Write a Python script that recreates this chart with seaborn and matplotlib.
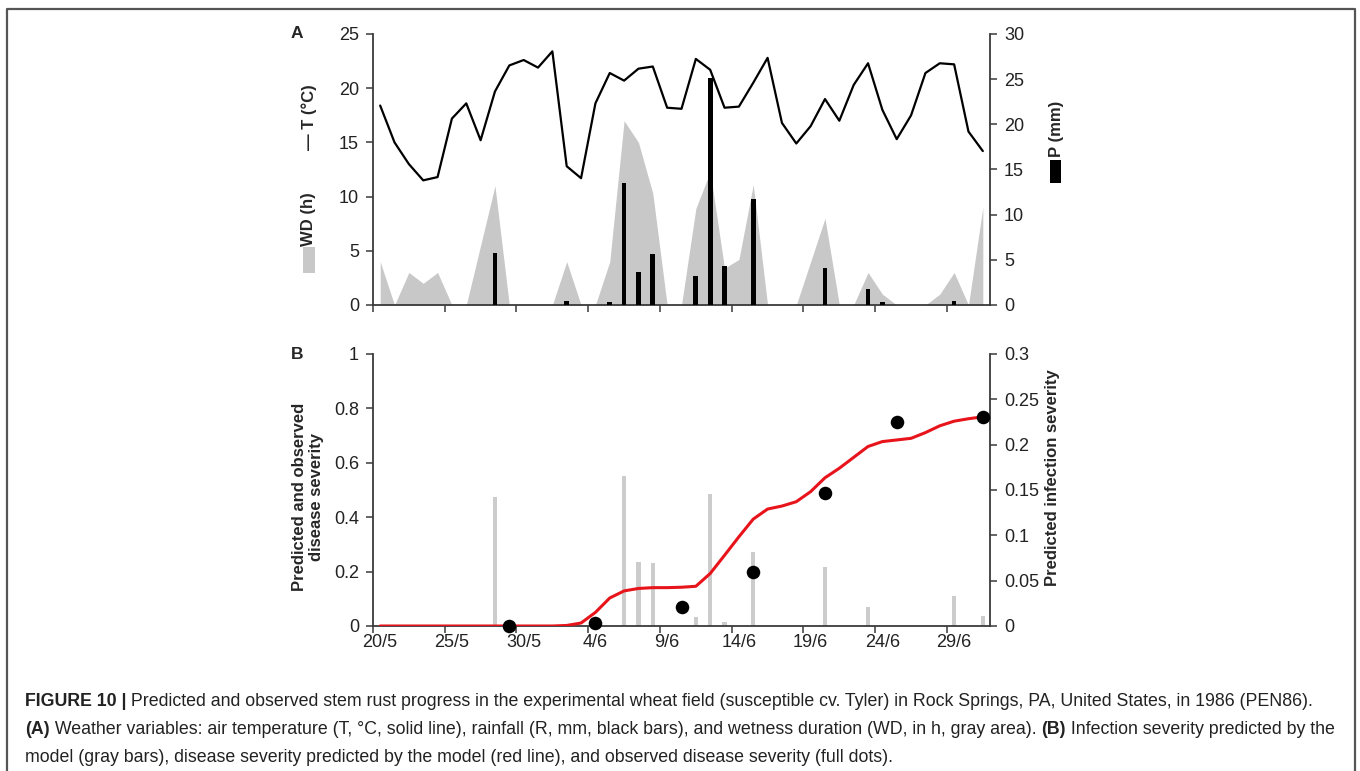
import numpy as np
import pandas as pd
import matplotlib
matplotlib.use("Agg")
import matplotlib.pyplot as plt
import seaborn as sns
from matplotlib.patches import Rectangle
from matplotlib.lines import Line2D
from matplotlib.ticker import FuncFormatter

# ---------------- data ----------------
days = list(range(43))  # 20/5 ... 1/7
date_ticks = [0, 5, 10, 15, 20, 25, 30, 35, 40]
date_labels = ["20/5", "25/5", "30/5", "4/6", "9/6", "14/6", "19/6", "24/6", "29/6"]

temperature = [18.4, 15.0, 13.0, 11.5, 11.8, 17.2, 18.6, 15.2, 19.7, 22.1, 22.6,
               21.9, 23.4, 12.8, 11.7, 18.6, 21.4, 20.7, 21.8, 22.0, 18.2, 18.1,
               22.7, 21.7, 18.2, 18.3, 20.5, 22.8, 16.8, 14.9, 16.5, 19.0, 17.0,
               20.3, 22.3, 18.0, 15.3, 17.5, 21.4, 22.3, 22.2, 16.0, 14.2]

wetness = [4, 0, 3, 2, 3, 0, 0, 5.5, 11, 0, 0, 0, 0, 4, 0, 0, 4, 17, 15, 10.3, 0,
           0, 8.9, 12.3, 3.4, 4.2, 11.1, 0, 0, 0, 4, 8, 0, 0, 3, 1, 0, 0, 0, 1, 3,
           0, 9]

rain = [0, 0, 0, 0, 0, 0, 0, 0, 5.8, 0, 0, 0, 0, 0.45, 0, 0, 0.3, 13.5, 3.6, 5.6,
        0, 0, 3.25, 25.1, 4.35, 0, 11.7, 0, 0, 0, 0, 4.05, 0, 0, 1.75, 0.3, 0, 0,
        0, 0, 0.45, 0, 0]

infection = [0, 0, 0, 0, 0, 0, 0, 0, 0.142, 0, 0, 0, 0, 0, 0, 0, 0, 0.165, 0.071,
             0.069, 0, 0, 0.010, 0.146, 0.004, 0, 0.082, 0, 0, 0, 0, 0.065, 0, 0,
             0.021, 0, 0, 0, 0, 0, 0.033, 0, 0.011]

predicted = [0, 0, 0, 0, 0, 0, 0, 0, 0, 0, 0, 0, 0, 0.002, 0.011, 0.05, 0.103,
             0.129, 0.138, 0.141, 0.141, 0.1425, 0.146, 0.193, 0.26, 0.328, 0.393,
             0.43, 0.441, 0.457, 0.494, 0.545, 0.58, 0.62, 0.66, 0.678, 0.684,
             0.69, 0.711, 0.736, 0.753, 0.762, 0.769]

obs_days = [9, 15, 21, 26, 31, 36, 42]
observed = [0, 0.01, 0.07, 0.2, 0.49, 0.75, 0.77]

# ---------------- style ----------------
sns.set_theme(style="white")
plt.rcParams["font.family"] = ["Liberation Sans", "DejaVu Sans"]

W, H = 1360, 771
fig = plt.figure(figsize=(W / 100, H / 100), dpi=100)

SP = "#3a3a3a"
TICK_FS = 13
LAB_FS = 12

def fx(px):
    return px / W

def fy(py):
    return 1 - py / H

L, R = 373, 990
axA = fig.add_axes([fx(L), fy(305), fx(R - L), (305 - 34) / H])
axB = fig.add_axes([fx(L), fy(626), fx(R - L), (626 - 354) / H])
axAr = axA.twinx()
axBr = axB.twinx()

# ---------------- panel A ----------------
axA.fill_between(days, 0, wetness, color="#c8c8c8", linewidth=0, zorder=1)
sns.lineplot(x=days, y=temperature, ax=axA, color="black", linewidth=1.6, zorder=3)
sns.barplot(x=days, y=rain, ax=axAr, native_scale=True, color="black",
            width=0.33, saturation=1, errorbar=None, linewidth=0, edgecolor="none")

# ---------------- panel B ----------------
sns.barplot(x=days, y=infection, ax=axBr, native_scale=True, color="#cccccc",
            width=0.3, saturation=1, errorbar=None, linewidth=0, edgecolor="none")
sns.lineplot(x=days, y=predicted, ax=axB, color="#e8141b", linewidth=2.2, zorder=3)
sns.scatterplot(x=obs_days, y=observed, ax=axB, color="black", s=95,
                edgecolor="black", linewidth=0, zorder=4, clip_on=False)
axB.set_zorder(axBr.get_zorder() + 1)
axB.patch.set_visible(False)

fmt = FuncFormatter(lambda v, p: "%g" % v)

for ax, ylim, yt in [(axA, (0, 25), np.arange(0, 26, 5)),
                     (axB, (0, 1), np.arange(0, 1.01, 0.2))]:
    ax.set_ylim(*ylim)
    ax.set_yticks(yt)
    ax.yaxis.set_major_formatter(fmt)
    ax.set_xlim(-0.5, 42.5)
    ax.set_xticks([d - 0.5 for d in date_ticks])
    ax.set_xticklabels([])
    ax.set_xticks(date_ticks, minor=True)
    ax.tick_params(axis="x", which="major", bottom=True, direction="out",
                   length=5, width=1.1, color=SP)
    ax.tick_params(axis="x", which="minor", bottom=True, length=0,
                   labelsize=TICK_FS, labelcolor="#222222", pad=6)
    ax.tick_params(axis="y", left=True, direction="out", length=5, width=1.1,
                   color=SP, labelsize=TICK_FS, labelcolor="#222222", pad=5)
    ax.spines["top"].set_visible(False)
    ax.spines["right"].set_visible(False)
    for s in ["left", "bottom"]:
        ax.spines[s].set_color(SP)
        ax.spines[s].set_linewidth(1.3)
    ax.set_xlabel("")
    ax.set_ylabel("")

axA.set_xticklabels([], minor=True)
axB.set_xticklabels(date_labels, minor=True)

for ax, ylim, yt in [(axAr, (0, 30), np.arange(0, 31, 5)),
                     (axBr, (0, 0.3), [0, 0.05, 0.1, 0.15, 0.2, 0.25, 0.3])]:
    ax.set_ylim(*ylim)
    ax.set_yticks(yt)
    ax.yaxis.set_major_formatter(fmt)
    ax.set_xlim(-0.5, 42.5)
    ax.tick_params(axis="y", right=True, left=False, direction="out", length=5,
                   width=1.1, color=SP, labelsize=TICK_FS, labelcolor="#222222", pad=5)
    for s in ["top", "left", "bottom"]:
        ax.spines[s].set_visible(False)
    ax.spines["right"].set_color(SP)
    ax.spines["right"].set_linewidth(1.3)
    ax.set_xlabel("")
    ax.set_ylabel("")

# ---------------- axis titles ----------------
fig.text(fx(297), fy(33), "A", ha="center", va="center", weight="bold", fontsize=12.5)
fig.text(fx(297), fy(355), "B", ha="center", va="center", weight="bold", fontsize=12.5)

fig.text(fx(309), fy(117), "\u2014 T (\u00b0C)", rotation=90, ha="center",
         va="center", weight="bold", fontsize=LAB_FS)
fig.text(fx(309), fy(219), "WD (h)", rotation=90, ha="center", va="center",
         weight="bold", fontsize=LAB_FS)
fig.add_artist(Rectangle((fx(303), fy(273)), fx(12), 26 / H, transform=fig.transFigure,
                         facecolor="#c8c8c8", edgecolor="none"))
fig.text(fx(1056), fy(129), "P (mm)", rotation=90, ha="center", va="center",
         weight="bold", fontsize=LAB_FS)
fig.add_artist(Rectangle((fx(1050), fy(183)), fx(11), 23 / H, transform=fig.transFigure,
                         facecolor="black", edgecolor="none"))

fig.text(fx(308), fy(497), "Predicted and observed\ndisease severity", rotation=90,
         ha="center", va="center", weight="bold", fontsize=LAB_FS, linespacing=1.15)
fig.text(fx(1052), fy(478), "Predicted infection severity", rotation=90,
         ha="center", va="center", weight="bold", fontsize=LAB_FS)

# ---------------- frame ----------------
fig.add_artist(Line2D([fx(7), fx(7), fx(1355), fx(1355)],
                      [fy(771), fy(9), fy(9), fy(771)], transform=fig.transFigure,
                      color="#555555", linewidth=1.6))

# ---------------- caption ----------------
CAP_FS = 12.8
renderer = fig.canvas.get_renderer()

def caption_line(y_px, segments, x0=25):
    x = fx(x0)
    for txt, wt in segments:
        t = fig.text(x, fy(y_px), txt, ha="left", va="baseline", fontsize=CAP_FS,
                     weight=wt, color="#222222")
        bb = t.get_window_extent(renderer=renderer)
        x = x + bb.width / W

caption_line(706, [("FIGURE 10 |", "bold"),
                   (" Predicted and observed stem rust progress in the experimental wheat field "
                    "(susceptible cv. Tyler) in Rock Springs, PA, United States, in 1986 (PEN86).",
                    "normal")])
caption_line(734, [("(A)", "bold"),
                   (" Weather variables: air temperature (T, \u00b0C, solid line), rainfall (R, mm, "
                    "black bars), and wetness duration (WD, in h, gray area). ", "normal"),
                   ("(B)", "bold"),
                   (" Infection severity predicted by the", "normal")])
caption_line(762, [("model (gray bars), disease severity predicted by the model (red line), "
                    "and observed disease severity (full dots).", "normal")])

fig.savefig("out.png", dpi=100)
